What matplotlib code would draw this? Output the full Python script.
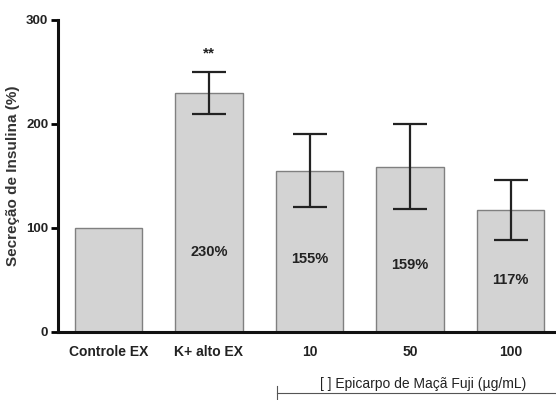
import matplotlib
matplotlib.use('Agg')
import matplotlib.pyplot as plt

groups = ['Controle EX', 'K+ alto EX', '10', '50', '100']
secretion = [100, 230, 155, 159, 117]
errors = [0, 20, 35, 41, 29]
labels = ['', '230%', '155%', '159%', '117%']
label_y = [0, 77, 70, 64, 50]

plt.rcParams['font.family'] = ['Liberation Sans', 'DejaVu Sans']
plt.rcParams['font.weight'] = 'bold'

fig = plt.figure(figsize=(5.56, 4.0), dpi=100)
ax = fig.add_axes([58 / 556, 68 / 400, 1 - 58 / 556, 312 / 400])

x = range(len(groups))
ax.bar(x, secretion, width=0.67, color='#d3d3d3', edgecolor='#808080', linewidth=1.0)
for i in x:
    if errors[i]:
        ax.errorbar(i, secretion[i], yerr=errors[i], fmt='none', ecolor='#222222',
                    elinewidth=1.6, capsize=12, capthick=1.6)
    if labels[i]:
        ax.text(i, label_y[i], labels[i], ha='center', va='center', fontsize=10.5,
                fontweight='bold', color='#222222')

ax.text(1, 268, '**', ha='center', va='center', fontsize=11, fontweight='bold', color='#222222')

ax.set_xlim(-0.5, 4.45)
ax.set_ylim(0, 300)
ax.set_yticks([0, 100, 200, 300])
ax.set_xticks(list(x))
ax.set_xticklabels(groups)
ax.tick_params(axis='x', length=0, pad=9, labelsize=10)
ax.tick_params(axis='y', length=5, width=2, pad=2, labelsize=9.5)
for lab in ax.get_xticklabels() + ax.get_yticklabels():
    lab.set_fontweight('bold')
    lab.set_color('#222222')
for s in ['top', 'right']:
    ax.spines[s].set_visible(False)
for s in ['left', 'bottom']:
    ax.spines[s].set_linewidth(2.2)
    ax.spines[s].set_color('#111111')

ax.set_ylabel('Secreção de Insulina (%)', fontsize=11, fontweight='bold', color='#333333')
ax.yaxis.set_label_coords(-0.076, 0.5)

# bracket under the extract concentrations
fig.add_artist(plt.Line2D([277 / 556, 1.0], [7 / 400, 7 / 400], color='#555555', lw=0.8))
fig.add_artist(plt.Line2D([277 / 556, 277 / 556], [1 / 400, 14 / 400], color='#555555', lw=0.8))
fig.text(423 / 556, 16 / 400, '[ ] Epicarpo de Maçã Fuji (µg/mL)', ha='center', va='center',
         fontsize=10, fontweight='normal', color='#222222')

fig.savefig('out.png', dpi=100)
